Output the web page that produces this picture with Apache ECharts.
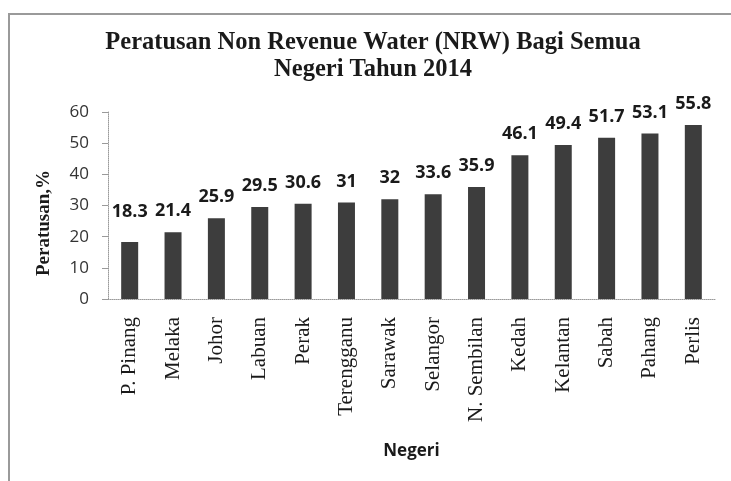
<!DOCTYPE html>
<html>
<head>
<meta charset="utf-8">
<script src="https://cdn.jsdelivr.net/npm/echarts@6/dist/echarts.min.js"></script>
<style>
  html, body { margin: 0; padding: 0; background: #fff; }
  #chart { width: 731px; height: 481px; }
</style>
</head>
<body>
<div id="chart"></div>
<script>
const negeri = ['P. Pinang', 'Melaka', 'Johor', 'Labuan', 'Perak', 'Terengganu', 'Sarawak',
  'Selangor', 'N. Sembilan', 'Kedah', 'Kelantan', 'Sabah', 'Pahang', 'Perlis']
const peratusan = [18.3, 21.4, 25.9, 29.5, 30.6, 31, 32, 33.6, 35.9, 46.1, 49.4, 51.7, 53.1, 55.8]
const yTicks = [0, 10, 20, 30, 40, 50, 60]

const serif = "'Liberation Serif', 'Times New Roman', serif"
const sans = "'Open Sans', 'Liberation Sans', sans-serif"

const myChart = echarts.init(document.getElementById('chart'))

myChart.setOption({
  animation: false,
  backgroundColor: '#fff',
  title: {
    text: 'Peratusan Non Revenue Water (NRW) Bagi Semua\nNegeri Tahun 2014',
    left: 373,
    top: 29,
    padding: 0,
    textAlign: 'center',
    textStyle: {
      fontFamily: serif,
      fontWeight: 'bold',
      fontSize: 24.5,
      lineHeight: 27,
      color: '#1a1a1a'
    }
  },
  graphic: [
    {
      type: 'rect',
      shape: { x: 9, y: 14, width: 740, height: 480 },
      style: { fill: 'none', stroke: '#9a9a9a', lineWidth: 2 }
    },
    {
      type: 'text',
      x: 44,
      y: 223,
      rotation: Math.PI / 2,
      style: {
        text: 'Peratusan,%',
        fontFamily: serif,
        fontWeight: 'bold',
        fontSize: 19,
        fill: '#1a1a1a',
        align: 'center',
        verticalAlign: 'middle'
      }
    }
  ],
  grid: {
    left: 108,
    right: 16,
    top: 112,
    bottom: 182
  },
  xAxis: {
    type: 'category',
    data: negeri,
    name: 'Negeri',
    nameLocation: 'middle',
    nameGap: 144,
    nameTextStyle: {
      fontFamily: sans,
      fontWeight: 'bold',
      fontSize: 17,
      color: '#1a1a1a'
    },
    axisLine: { lineStyle: { color: '#9a9a9a', type: 'dotted', width: 1 } },
    axisTick: { show: false },
    axisLabel: {
      rotate: 90,
      margin: 18,
      interval: 0,
      fontFamily: serif,
      fontSize: 21,
      color: '#1a1a1a'
    }
  },
  yAxis: {
    type: 'value',
    min: yTicks[0],
    max: yTicks[yTicks.length - 1],
    interval: 10,
    axisLine: { show: true, lineStyle: { color: '#9a9a9a', type: 'dotted', width: 1 } },
    axisTick: { show: true, length: 6, lineStyle: { color: '#9a9a9a' } },
    splitLine: { show: false },
    axisLabel: {
      margin: 19,
      fontFamily: sans,
      fontSize: 17,
      color: '#333'
    }
  },
  series: [
    {
      type: 'bar',
      data: peratusan.map((v, i) => (i === 0 ? { value: v, label: { distance: 21 } } : v)),
      barWidth: 17,
      itemStyle: { color: '#3d3d3d' },
      label: {
        show: true,
        position: 'top',
        distance: 12,
        fontFamily: sans,
        fontWeight: 'bold',
        fontSize: 18,
        color: '#1a1a1a'
      }
    }
  ]
})
</script>
</body>
</html>
